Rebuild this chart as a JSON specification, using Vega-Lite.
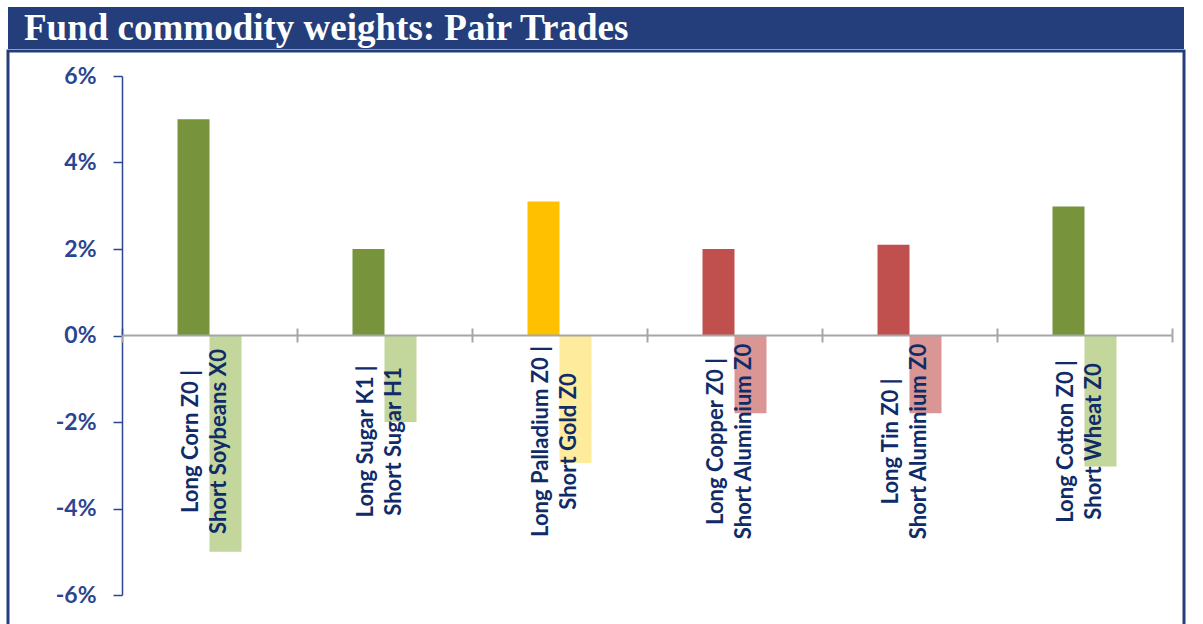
{
  "$schema": "https://vega.github.io/schema/vega-lite/v6.json",
  "background": "white",
  "padding": {"left": -5, "top": 7, "right": 0, "bottom": 0},
  "spacing": 0,
  "config": {"concat": {"spacing": 0}},
  "vconcat": [
    {
      "width": 1176,
      "height": 42,
      "view": {"fill": "#243E7B", "stroke": null},
      "data": {"values": [{"title": "Fund commodity weights: Pair Trades"}]},
      "mark": {"type": "text", "align": "left", "baseline": "middle", "dx": 16, "dy": 1, "color": "white", "font": "Liberation Serif", "fontWeight": "bold", "fontSize": 37},
      "encoding": {
        "text": {"field": "title", "type": "nominal"},
        "x": {"datum": 0, "type": "quantitative", "scale": {"domain": [0, 1]}, "axis": null}
      }
    },
    {
      "width": 1176,
      "height": 580,
      "view": {"stroke": "#243E7B", "strokeWidth": 3, "fill": "white"},
      "data": {"values": [
        {"pair": "Long Corn Z0 |;Short Soybeans X0", "side": "Long", "class": "Agri long", "weight": 0.050},
        {"pair": "Long Corn Z0 |;Short Soybeans X0", "side": "Short", "class": "Agri short", "weight": -0.050},
        {"pair": "Long Sugar K1 |;Short Sugar H1", "side": "Long", "class": "Agri long", "weight": 0.020},
        {"pair": "Long Sugar K1 |;Short Sugar H1", "side": "Short", "class": "Agri short", "weight": -0.020},
        {"pair": "Long Palladium Z0 |;Short Gold Z0", "side": "Long", "class": "Precious long", "weight": 0.031},
        {"pair": "Long Palladium Z0 |;Short Gold Z0", "side": "Short", "class": "Precious short", "weight": -0.0295},
        {"pair": "Long Copper Z0 |;Short Aluminium Z0", "side": "Long", "class": "Base long", "weight": 0.020},
        {"pair": "Long Copper Z0 |;Short Aluminium Z0", "side": "Short", "class": "Base short", "weight": -0.018},
        {"pair": "Long Tin Z0 |;Short Aluminium Z0 ", "side": "Long", "class": "Base long", "weight": 0.021},
        {"pair": "Long Tin Z0 |;Short Aluminium Z0 ", "side": "Short", "class": "Base short", "weight": -0.018},
        {"pair": "Long Cotton Z0 |;Short Wheat Z0", "side": "Long", "class": "Agri long", "weight": 0.0298},
        {"pair": "Long Cotton Z0 |;Short Wheat Z0", "side": "Short", "class": "Agri short", "weight": -0.0303}
      ]},
      "resolve": {"axis": {"x": "independent"}},
      "layer": [
        {
          "mark": {"type": "bar", "opacity": 0},
          "encoding": {
            "x": {"field": "pair", "type": "nominal", "sort": null,
              "scale": {"range": [114, 1164], "paddingInner": 0, "paddingOuter": 0},
              "axis": {"orient": "top", "offset": -284, "title": null, "labels": false, "domain": false,
                "ticks": true, "tickBand": "extent", "tickSize": 7, "tickWidth": 2, "tickColor": "#A6A6A6", "grid": false}},
            "xOffset": {"field": "side", "type": "nominal", "sort": ["Long", "Short"], "scale": {"range": [55.5, 119.5], "paddingInner": 0, "paddingOuter": 0}},
            "y": {"field": "weight", "type": "quantitative", "scale": {"domain": [-0.06, 0.06], "range": [544, 25], "nice": false},
              "axis": {"orient": "left", "offset": -114, "title": null, "grid": false,
                "values": [-0.06, -0.04, -0.02, 0, 0.02, 0.04, 0.06],
                "labelExpr": "(datum.value < 0 ? '-' : '') + abs(round(datum.value * 100)) + '%'",
                "domainColor": "#2B4590", "domainWidth": 1.5, "tickColor": "#2B4590", "tickWidth": 1.5, "tickSize": 9,
                "labelPadding": 17, "labelFont": "Lato", "labelFontWeight": "bold", "labelFontSize": 23, "labelColor": "#2B4590"}}
          }
        },
        {
          "mark": {"type": "bar"},
          "encoding": {
            "x": {"field": "pair", "type": "nominal", "sort": null,
              "scale": {"range": [114, 1164], "paddingInner": 0, "paddingOuter": 0},
              "axis": {"orient": "bottom", "offset": -296, "title": null, "zindex": 1,
                "domain": true, "domainColor": "#A6A6A6", "domainWidth": 2,
                "ticks": true, "tickBand": "extent", "tickSize": 7, "tickWidth": 2, "tickColor": "#A6A6A6",
                "labelExpr": "split(datum.label, ';')",
                "labelAngle": -90, "labelAlign": "center", "labelBaseline": "middle",
                "labelPadding": 99, "labelOffset": -19, "labelLineHeight": 28,
                "labelFont": "Lato", "labelFontWeight": "bold", "labelFontSize": 22, "labelColor": "#0F2C68",
                "labelLimit": 0, "labelOverlap": false, "labelBound": false, "grid": false}},
            "xOffset": {"field": "side", "type": "nominal", "sort": ["Long", "Short"], "scale": {"range": [55.5, 119.5], "paddingInner": 0, "paddingOuter": 0}},
            "y": {"field": "weight", "type": "quantitative", "scale": {"domain": [-0.06, 0.06], "range": [544, 25], "nice": false},
              "axis": {"orient": "left", "offset": -114, "title": null, "grid": false,
                "values": [-0.06, -0.04, -0.02, 0, 0.02, 0.04, 0.06],
                "labelExpr": "(datum.value < 0 ? '-' : '') + abs(round(datum.value * 100)) + '%'",
                "domainColor": "#2B4590", "domainWidth": 1.5, "tickColor": "#2B4590", "tickWidth": 1.5, "tickSize": 9,
                "labelPadding": 17, "labelFont": "Lato", "labelFontWeight": "bold", "labelFontSize": 23, "labelColor": "#2B4590"}},
            "color": {"field": "class", "type": "nominal",
              "scale": {"domain": ["Agri long", "Agri short", "Precious long", "Precious short", "Base long", "Base short"],
                "range": ["#77933C", "#C3D69B", "#FFC000", "#FFEB9C", "#C0504D", "#D99694"]},
              "legend": null}
          }
        }
      ]
    }
  ]
}
